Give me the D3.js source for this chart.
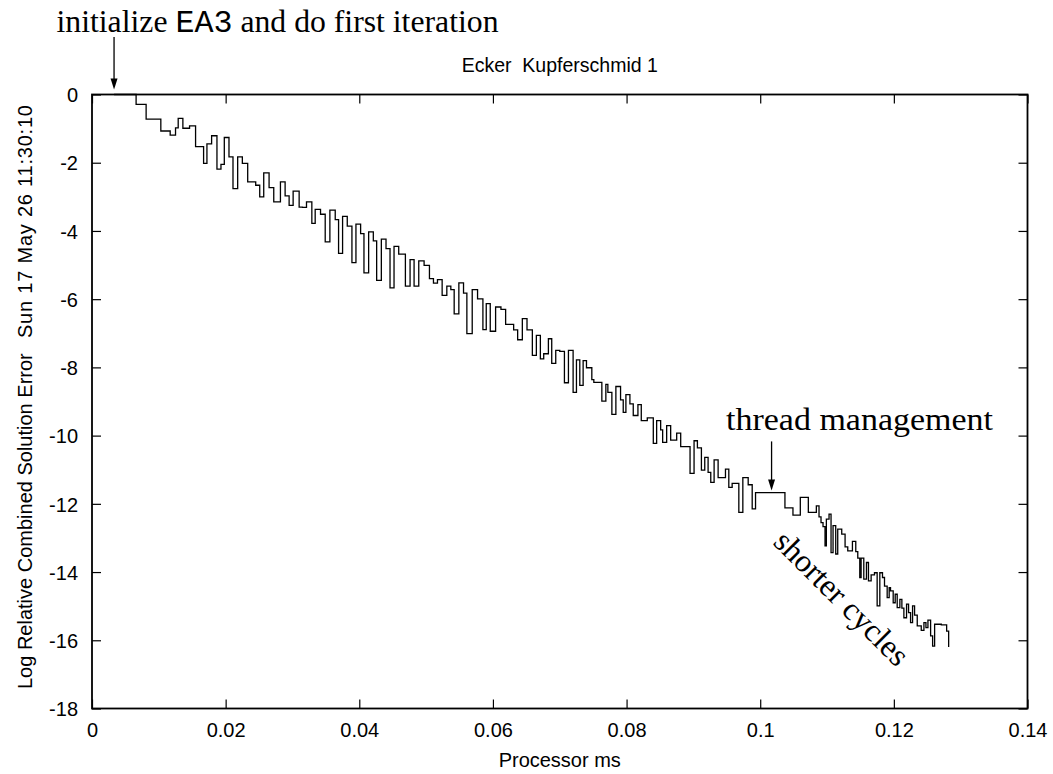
<!DOCTYPE html>
<html>
<head>
<meta charset="utf-8">
<script src="https://cdn.jsdelivr.net/npm/d3@7"></script>
<style>
  body { margin: 0; background: #fff; }
  text { fill: #000; }
</style>
</head>
<body>
<svg id="chart" width="1053" height="774"></svg>
<script>
// processor time (ms) at which each step starts
const timeMs = [
  0.0033, 0.0066, 0.0081, 0.0103, 0.0117, 0.0125, 0.0129, 0.0136, 0.0146, 0.0155,
  0.0167, 0.0172, 0.0179, 0.0187, 0.0193, 0.0198, 0.0205, 0.0211, 0.0218, 0.0225,
  0.0233, 0.0245, 0.0251, 0.0257, 0.0265, 0.0272, 0.0282, 0.0289, 0.0295, 0.0301,
  0.0310, 0.0315, 0.0321, 0.0329, 0.0334, 0.0342, 0.0349, 0.0356, 0.0364, 0.0369,
  0.0375, 0.0382, 0.0389, 0.0395, 0.0402, 0.0407, 0.0414, 0.0421, 0.0426, 0.0433,
  0.0440, 0.0446, 0.0452, 0.0459, 0.0469, 0.0476, 0.0482, 0.0489, 0.0497, 0.0505,
  0.0511, 0.0517, 0.0524, 0.0531, 0.0537, 0.0542, 0.0549, 0.0556, 0.0561, 0.0569,
  0.0577, 0.0585, 0.0590, 0.0596, 0.0604, 0.0612, 0.0619, 0.0631, 0.0637, 0.0644,
  0.0651, 0.0659, 0.0665, 0.0671, 0.0676, 0.0683, 0.0688, 0.0694, 0.0700, 0.0707,
  0.0713, 0.0720, 0.0725, 0.0730, 0.0735, 0.0740, 0.0748, 0.0751, 0.0763, 0.0769,
  0.0772, 0.0778, 0.0784, 0.0791, 0.0795, 0.0799, 0.0805, 0.0810, 0.0817, 0.0822,
  0.0831, 0.0840, 0.0845, 0.0851, 0.0854, 0.0860, 0.0866, 0.0875, 0.0881, 0.0895,
  0.0901, 0.0906, 0.0912, 0.0917, 0.0922, 0.0926, 0.0931, 0.0937, 0.0948, 0.0953,
  0.0958, 0.0968, 0.0974, 0.0982, 0.0988, 0.0993, 0.1037, 0.1049, 0.1060, 0.1072,
  0.1084, 0.1088, 0.1091, 0.1094, 0.1097, 0.1099, 0.1103, 0.1106, 0.1109, 0.1113,
  0.1116, 0.1122, 0.1127, 0.1131, 0.1138, 0.1143, 0.1146, 0.1149, 0.1151, 0.1155,
  0.1159, 0.1162, 0.1166, 0.1171, 0.1175, 0.1179, 0.1183, 0.1186, 0.1190, 0.1193,
  0.1195, 0.1199, 0.1202, 0.1205, 0.1209, 0.1212, 0.1215, 0.1219, 0.1222, 0.1225,
  0.1228, 0.1231, 0.1235, 0.1241, 0.1245, 0.1248, 0.1251, 0.1255, 0.1258, 0.1261,
  0.1271, 0.1279, 0.1282
];

// log10 of the relative combined solution error for each step
const logError = [
  0.00, -0.29, -0.72, -1.07, -1.19, -0.98, -0.70, -0.99, -0.92, -1.53,
  -2.02, -1.45, -1.21, -2.19, -2.05, -1.26, -1.83, -2.76, -1.83, -2.02,
  -2.56, -2.66, -3.00, -2.30, -2.73, -3.15, -2.56, -2.97, -3.25, -2.83,
  -3.30, -3.31, -3.15, -3.78, -3.37, -3.51, -4.32, -3.39, -3.67, -4.66,
  -3.57, -3.86, -4.93, -3.80, -4.08, -5.23, -4.03, -4.29, -5.45, -4.24,
  -4.52, -5.67, -4.45, -4.68, -5.62, -4.84, -5.62, -4.88, -5.01, -5.40,
  -5.53, -5.43, -5.89, -5.62, -5.72, -6.43, -5.52, -5.82, -7.01, -5.72,
  -5.99, -6.89, -6.13, -6.94, -6.23, -6.30, -6.74, -6.90, -7.19, -6.57,
  -6.90, -7.65, -7.06, -7.75, -7.60, -7.16, -7.88, -7.50, -7.53, -8.45,
  -7.50, -8.73, -7.78, -8.53, -7.80, -8.01, -8.36, -8.44, -8.99, -8.50,
  -8.73, -9.38, -8.56, -8.95, -9.32, -8.80, -9.07, -9.41, -9.09, -9.56,
  -9.48, -10.23, -9.56, -9.83, -10.20, -9.71, -10.13, -9.93, -10.32, -11.11,
  -10.15, -10.36, -11.01, -10.64, -11.08, -11.37, -10.71, -11.23, -10.98, -11.52,
  -11.40, -12.25, -11.23, -11.44, -12.15, -11.67, -12.12, -12.33, -11.81, -12.25,
  -12.06, -12.38, -12.55, -12.67, -13.23, -12.45, -12.30, -13.43, -12.64, -13.47,
  -12.74, -12.89, -13.26, -13.38, -13.10, -13.40, -13.59, -14.16, -13.59, -14.21,
  -13.72, -14.26, -14.08, -14.02, -14.99, -14.02, -14.16, -14.41, -14.75, -14.46,
  -14.55, -14.90, -14.65, -15.04, -14.80, -15.06, -15.34, -14.94, -15.19, -15.48,
  -14.99, -15.26, -15.58, -15.71, -15.48, -15.63, -15.41, -15.87, -16.17, -15.53,
  -15.55, -15.73, -16.20
];

const xTicks = [0, 0.02, 0.04, 0.06, 0.08, 0.1, 0.12, 0.14];
const xTickLabels = ["0", "0.02", "0.04", "0.06", "0.08", "0.1", "0.12", "0.14"];
const yTicks = [0, -2, -4, -6, -8, -10, -12, -14, -16, -18];
const yTickLabels = ["0", "-2", "-4", "-6", "-8", "-10", "-12", "-14", "-16", "-18"];

const width = 1053;
const height = 774;
const margin = { top: 94.5, right: 25.5, bottom: 65.5, left: 92 };
const innerW = width - margin.left - margin.right;
const innerH = height - margin.top - margin.bottom;

const sans = "'Liberation Sans', Arial, Helvetica, sans-serif";
const serif = "'Liberation Serif', 'Times New Roman', serif";
const mono = "'Liberation Mono', 'DejaVu Sans Mono', monospace";

const svg = d3.select("#chart");

const x = d3.scaleLinear().domain([0, 0.14]).range([0, innerW]);
const y = d3.scaleLinear().domain([-18, 0]).range([innerH, 0]);

const g = svg.append("g").attr("transform", `translate(${margin.left},${margin.top})`);

// axes, ticks on all four sides pointing inwards
const TICK = 9;

const xAxis = g.append("g")
  .attr("transform", `translate(0,${innerH})`)
  .call(d3.axisBottom(x).tickValues(xTicks).tickSize(-TICK)
    .tickFormat((d, i) => xTickLabels[i]));
xAxis.selectAll("text").attr("y", 28.5).attr("dy", null);

const yAxis = g.append("g")
  .call(d3.axisLeft(y).tickValues(yTicks).tickSize(-TICK)
    .tickFormat((d, i) => yTickLabels[i]));
yAxis.selectAll("text").attr("x", -14).attr("dy", "0.36em");

g.append("g")
  .call(d3.axisTop(x).tickValues(xTicks).tickSize(-TICK).tickFormat(""));
g.append("g")
  .attr("transform", `translate(${innerW},0)`)
  .call(d3.axisRight(y).tickValues(yTicks).tickSize(-TICK).tickFormat(""));

g.selectAll(".domain").remove();
g.selectAll(".tick line").attr("stroke", "#000").attr("stroke-width", 1.2);
g.selectAll(".tick text")
  .style("font-family", sans)
  .style("font-size", "20px")
  .attr("fill", "#000");

// frame
g.append("rect")
  .attr("width", innerW)
  .attr("height", innerH)
  .attr("fill", "none")
  .attr("stroke", "#000")
  .attr("stroke-width", 1.8);

// step curve
const points = timeMs.map((t, i) => [t, logError[i]]);
const line = d3.line()
  .x((d) => x(d[0]))
  .y((d) => y(d[1]))
  .curve(d3.curveStepAfter);

g.append("path")
  .datum(points)
  .attr("fill", "none")
  .attr("stroke", "#000")
  .attr("stroke-width", 1.3)
  .attr("d", line);

// arrows used by the annotations
function arrow(x0, y0, y1) {
  g.append("line")
    .attr("x1", x0).attr("x2", x0)
    .attr("y1", y0).attr("y2", y1 - 8)
    .attr("stroke", "#000")
    .attr("stroke-width", 1.3);
  g.append("path")
    .attr("d", `M${x0 - 3.5},${y1 - 11}L${x0 + 3.5},${y1 - 11}L${x0},${y1}Z`)
    .attr("fill", "#000");
}

// initialize EA3 ...
arrow(x(0.0033), -57.5, -5);
g.append("text")
  .attr("x", -35.5)
  .attr("y", -62.5)
  .attr("textLength", 442)
  .attr("lengthAdjust", "spacingAndGlyphs")
  .style("font-family", serif)
  .style("font-size", "32px")
  .call((t) => {
    t.append("tspan").text("initialize ");
    t.append("tspan").style("font-family", mono).text("EA3");
    t.append("tspan").text(" and do first iteration");
  });

// thread management
arrow(x(0.1017), y(-10.17), y(-11.67) - 2);
g.append("text")
  .attr("x", 634)
  .attr("y", 335.5)
  .attr("textLength", 267)
  .attr("lengthAdjust", "spacingAndGlyphs")
  .style("font-family", serif)
  .style("font-size", "32px")
  .text("thread management");

// shorter cycles
g.append("text")
  .attr("transform", "translate(680,449) rotate(45)")
  .attr("textLength", 176)
  .attr("lengthAdjust", "spacingAndGlyphs")
  .style("font-family", serif)
  .style("font-size", "32px")
  .text("shorter cycles");

// title (keeps the double space)
svg.append("text")
  .attr("x", margin.left + innerW / 2)
  .attr("y", 71.5)
  .attr("text-anchor", "middle")
  .style("white-space", "pre")
  .style("font-family", sans)
  .style("font-size", "19.5px")
  .text("Ecker  Kupferschmid 1");

// x label
svg.append("text")
  .attr("x", margin.left + innerW / 2)
  .attr("y", 767)
  .attr("text-anchor", "middle")
  .style("font-family", sans)
  .style("font-size", "20px")
  .text("Processor ms");

// y label and time stamp
svg.append("text")
  .attr("transform", "translate(32,689) rotate(-90)")
  .style("font-family", sans)
  .style("font-size", "20px")
  .text("Log Relative Combined Solution Error");

svg.append("text")
  .attr("transform", "translate(32,338) rotate(-90)")
  .attr("textLength", 233)
  .style("font-family", sans)
  .style("font-size", "20px")
  .text("Sun 17 May 26 11:30:10");
</script>
</body>
</html>
